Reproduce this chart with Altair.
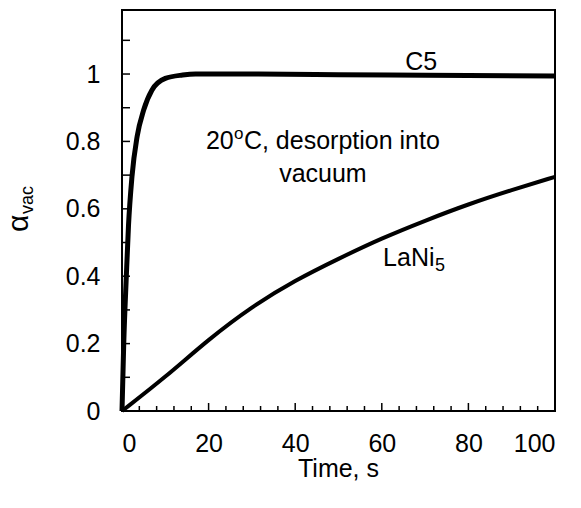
import altair as alt
import pandas as pd

# ---- data ----
c5_t = [0, 0.4, 1.0, 1.5, 2.3, 3.5, 5.0, 6.9, 10, 14, 17, 30, 50, 70, 100]
c5_a = [0, 0.20, 0.40, 0.55, 0.695, 0.815, 0.893, 0.952, 0.987, 0.997, 1.0, 1.0, 0.998, 0.996, 0.994]

lani_t = [0, 10, 20, 30, 40, 50, 60, 70, 80, 90, 100]
lani_a = [0, 0.10, 0.213, 0.31, 0.388, 0.452, 0.513, 0.565, 0.614, 0.656, 0.695]

x_labels = [0, 20, 40, 60, 80, 100]
y_labels = [0, 0.2, 0.4, 0.6, 0.8, 1.0]
x_minor = [4, 8, 12, 16, 24, 28, 32, 36, 44, 48, 52, 56, 64, 68, 72, 76, 84, 88, 92, 96]
x_major = [20, 40, 60, 80]
y_ticks = [0.1, 0.2, 0.3, 0.4, 0.5, 0.6, 0.7, 0.8, 0.9, 1.0, 1.1]

FONT = "Liberation Sans"
FS = 25
W, H = 433, 401

c5_df = pd.DataFrame({"t": c5_t, "a": c5_a})
lani_df = pd.DataFrame({"t": lani_t, "a": lani_a})

xs = alt.Scale(domain=[0, 100], nice=False, zero=False)
ys = alt.Scale(domain=[0, 1.19], nice=False, zero=False)

x_axis = alt.Axis(values=x_labels, title=None, ticks=False, tickSize=0, domain=False,
                  grid=False, labelFontSize=FS, labelFont=FONT, labelColor="black",
                  labelPadding=20)
y_axis = alt.Axis(values=y_labels, format="~g", title=None, ticks=False, tickSize=0,
                  domain=False, grid=False, labelFontSize=FS, labelFont=FONT,
                  labelColor="black", labelPadding=22)

X = lambda f: alt.X(f, scale=xs, axis=x_axis)
Y = lambda f: alt.Y(f, scale=ys, axis=y_axis)

c5_line = alt.Chart(c5_df).mark_line(color="black", strokeWidth=5, interpolate="monotone").encode(
    x=X("t:Q"), y=Y("a:Q"))
lani_line = alt.Chart(lani_df).mark_line(color="black", strokeWidth=4, interpolate="basis").encode(
    x=X("t:Q"), y=Y("a:Q"))

xminor = alt.Chart(pd.DataFrame({"t": x_minor})).mark_rule(color="black", strokeWidth=1.5).encode(
    x=X("t:Q"), y=alt.value(H), y2=alt.value(H - 5))
xmajor = alt.Chart(pd.DataFrame({"t": x_major})).mark_rule(color="black", strokeWidth=1.5).encode(
    x=X("t:Q"), y=alt.value(H), y2=alt.value(H - 8))
yt = alt.Chart(pd.DataFrame({"a": y_ticks})).mark_rule(color="black", strokeWidth=1.5).encode(
    y=Y("a:Q"), x=alt.value(0), x2=alt.value(8))


def txt(df, field, size=FS, align="left", dx=0, dy=0):
    return alt.Chart(df).mark_text(font=FONT, fontSize=size, color="black", align=align,
                                   baseline="alphabetic", dx=dx, dy=dy).encode(
        x=X("t:Q"), y=Y("a:Q"), text=f"{field}:N")


c5_lbl = pd.DataFrame({"t": [69.1], "a": [1.012], "s": ["C5"]})
cond = pd.DataFrame({"t": [46.4], "a": [0.777], "p1": ["20"], "p2": ["o"],
                     "p3": ["C, desorption into"]})
cond2 = pd.DataFrame({"t": [46.4], "a": [0.680], "s": ["vacuum"]})
lani_lbl = pd.DataFrame({"t": [60.3], "a": [0.430], "s": ["LaNi"], "sub": ["5"]})

texts = [
    txt(c5_lbl, "s", align="center"),
    txt(cond, "p1", dx=-117),
    txt(cond, "p2", size=17, dx=-89, dy=-10),
    txt(cond, "p3", dx=-79),
    txt(cond2, "s", align="center"),
    txt(lani_lbl, "s"),
    txt(lani_lbl, "sub", size=18, dx=52, dy=5),
]

titles = pd.DataFrame({"alpha": ["α"], "vac": ["vac"], "time": ["Time, s"]})
alpha_t = alt.Chart(titles).mark_text(font=FONT, fontSize=30, color="black", align="left",
                                      baseline="alphabetic", angle=270).encode(
    x=alt.value(-94), y=alt.value(222), text="alpha:N")
vac_t = alt.Chart(titles).mark_text(font=FONT, fontSize=18, color="black", align="left",
                                    baseline="alphabetic", angle=270).encode(
    x=alt.value(-89), y=alt.value(204), text="vac:N")
time_t = alt.Chart(titles).mark_text(font=FONT, fontSize=FS, color="black", align="center",
                                     baseline="alphabetic").encode(
    x=alt.value(W / 2), y=alt.value(467), text="time:N")

chart = alt.layer(
    c5_line, lani_line, xminor, xmajor, yt, *texts, alpha_t, vac_t, time_t
).properties(
    width=W, height=H,
    autosize=alt.AutoSizeParams(type="none"),
    padding={"left": 122, "top": 10, "right": 26, "bottom": 97},
    background="white",
).configure_view(stroke="black", strokeWidth=2)

chart.save("out.html", embed_options={"renderer": "svg", "actions": False})
